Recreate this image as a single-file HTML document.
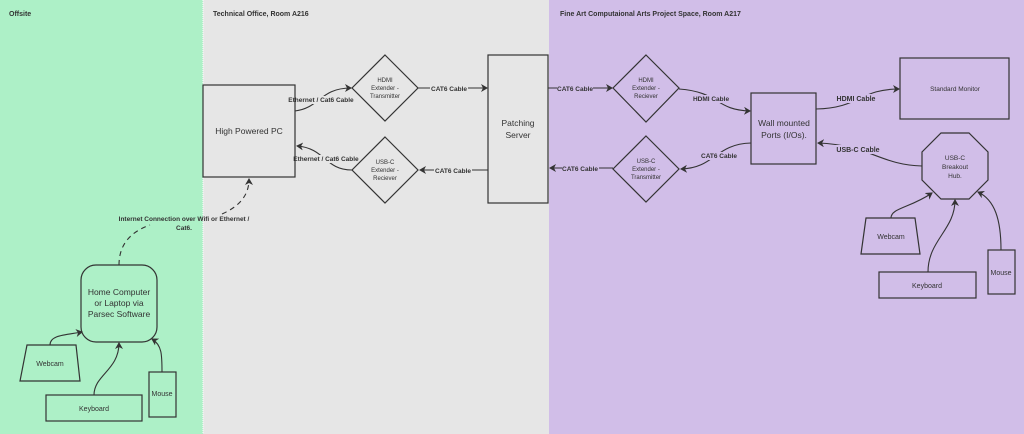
<!DOCTYPE html>
<html><head><meta charset="utf-8"><style>
html,body{margin:0;padding:0;width:1024px;height:434px;overflow:hidden}
svg{display:block}
text{font-family:"Liberation Sans",sans-serif;fill:#333}
.t{font-size:7px;font-weight:bold}
.l{font-size:6.5px;font-weight:bold}
.n{font-size:8.5px}
.s{font-size:6px}
.sh{fill:none;stroke:#333;stroke-width:1.2}
.c{fill:none;stroke:#333;stroke-width:1.1}
.g{fill:#e6e6e6}.p{fill:#d1bee8}.gr{fill:#adf0c7}
</style></head><body>
<svg width="1024" height="434" viewBox="0 0 1024 434">
<defs><marker id="a" markerWidth="8" markerHeight="8" refX="6" refY="4" orient="auto" markerUnits="userSpaceOnUse"><path d="M0,0 L7,4 L0,8 L2,4 Z" fill="#333"/></marker></defs>
<rect x="0" y="0" width="203" height="434" fill="#adf0c7"/>
<rect x="203" y="0" width="346" height="434" fill="#e6e6e6"/>
<rect x="549" y="0" width="475" height="434" fill="#d1bee8"/>
<line x1="203" y1="0" x2="203" y2="434" stroke="#fff" stroke-dasharray="1,1"/>
<text class="t" x="9" y="16">Offsite</text>
<text class="t" x="213" y="16">Technical Office, Room A216</text>
<text class="t" x="560" y="16">Fine Art Computaional Arts Project Space, Room A217</text>

<!-- Connectors -->
<path class="c" d="M295,111 C320,108 320,88 351,88" marker-end="url(#a)"/>
<rect class="g" x="289" y="96" width="64" height="8"/>
<text class="l" x="321" y="102" text-anchor="middle">Ethernet / Cat6 Cable</text>
<path class="c" d="M352,170 C325,170 325,148 297,146" marker-end="url(#a)"/>
<rect class="g" x="294" y="155" width="64" height="8"/>
<text class="l" x="326" y="161" text-anchor="middle">Ethernet / Cat6 Cable</text>
<path class="c" d="M418,88 L487,88" marker-end="url(#a)"/>
<rect x="430" y="84" width="38" height="8" fill="#e6e6e6"/>
<text class="l" x="449" y="91" text-anchor="middle">CAT6 Cable</text>
<path class="c" d="M488,170 L420,170" marker-end="url(#a)"/>
<rect x="434" y="166" width="38" height="8" fill="#e6e6e6"/>
<text class="l" x="453" y="173" text-anchor="middle">CAT6 Cable</text>
<path class="c" d="M548,88 L612,88" marker-end="url(#a)"/>
<rect x="557" y="84" width="36" height="8" fill="#d1bee8"/>
<text class="l" x="575" y="91" text-anchor="middle">CAT6 Cable</text>
<path class="c" d="M613,168 L550,168" marker-end="url(#a)"/>
<rect x="562" y="164" width="37" height="8" fill="#d1bee8"/>
<text class="l" x="580" y="171" text-anchor="middle">CAT6 Cable</text>
<path class="c" d="M679,89 C720,92 715,110 750,111" marker-end="url(#a)"/>
<rect class="p" x="692" y="95" width="38" height="8"/>
<text class="l" x="711" y="101" text-anchor="middle">HDMI Cable</text>
<path class="c" d="M751,143 C715,144 715,168 681,169" marker-end="url(#a)"/>
<rect class="p" x="700" y="152" width="38" height="8"/>
<text class="l" x="719" y="158" text-anchor="middle">CAT6 Cable</text>
<path class="c" d="M816,109 C860,108 860,89 899,89" marker-end="url(#a)"/>
<rect class="p" x="835" y="94" width="42" height="9"/>
<text class="l" x="856" y="101" style="font-size:7px" text-anchor="middle">HDMI Cable</text>
<path class="c" d="M922,166 C880,165 870,145 818,143" marker-end="url(#a)"/>
<rect class="p" x="835" y="145" width="46" height="9"/>
<text class="l" x="858" y="152" style="font-size:7px" text-anchor="middle">USB-C Cable</text>
<path class="c" d="M891,218 C891,208 910,208 932,193" marker-end="url(#a)"/>
<path class="c" d="M928,272 C928,240 955,230 955,200" marker-end="url(#a)"/>
<path class="c" d="M1001,250 C1001,220 995,200 978,192" marker-end="url(#a)"/>
<path class="c" d="M50,345 C50,335 65,335 82,332" marker-end="url(#a)"/>
<path class="c" d="M94,395 C94,375 119,370 119,343" marker-end="url(#a)"/>
<path class="c" d="M162,372 C162,355 162,345 152,339" marker-end="url(#a)"/>
<path class="c" d="M119,265 C119,245 130,232 150,225" stroke-dasharray="5,4"/>
<path class="c" d="M222,214 C240,206 249,195 249,179" stroke-dasharray="5,4" marker-end="url(#a)"/>
<text class="l" x="184" y="221" text-anchor="middle">Internet Connection over Wifi or Ethernet /</text>
<text class="l" x="184" y="230" text-anchor="middle">Cat6.</text>

<!-- Shapes -->
<rect class="sh" x="203" y="85" width="92" height="92"/>
<text class="n" x="249" y="134" text-anchor="middle">High Powered PC</text>
<path class="sh" d="M385,55 L418,88 L385,121 L352,88 Z"/>
<text class="s" x="385" y="82" text-anchor="middle">HDMI</text><text class="s" x="385" y="90" text-anchor="middle">Extender -</text><text class="s" x="385" y="98" text-anchor="middle">Transmitter</text>
<path class="sh" d="M385,137 L418,170 L385,203 L352,170 Z"/>
<text class="s" x="385" y="164" text-anchor="middle">USB-C</text><text class="s" x="385" y="172" text-anchor="middle">Extender -</text><text class="s" x="385" y="180" text-anchor="middle">Reciever</text>
<rect class="sh" x="488" y="55" width="60" height="148"/>
<text class="n" x="518" y="126" text-anchor="middle">Patching</text><text class="n" x="518" y="138" text-anchor="middle">Server</text>
<path class="sh" d="M646,55 L679,88 L646,122 L613,88 Z"/>
<text class="s" x="646" y="82" text-anchor="middle">HDMI</text><text class="s" x="646" y="90" text-anchor="middle">Extender -</text><text class="s" x="646" y="98" text-anchor="middle">Reciever</text>
<path class="sh" d="M646,136 L679,169 L646,202 L613,169 Z"/>
<text class="s" x="646" y="163" text-anchor="middle">USB-C</text><text class="s" x="646" y="171" text-anchor="middle">Extender -</text><text class="s" x="646" y="179" text-anchor="middle">Transmitter</text>
<rect class="sh" x="751" y="93" width="65" height="71"/>
<text class="n" x="784" y="126" text-anchor="middle">Wall mounted</text><text class="n" x="784" y="138" text-anchor="middle">Ports (I/Os).</text>
<rect class="sh" x="900" y="58" width="109" height="61"/>
<text class="s" x="955" y="91" text-anchor="middle" style="font-size:6.5px">Standard Monitor</text>
<path class="sh" d="M941,133 L969,133 L988,152 L988,180 L969,199 L941,199 L922,180 L922,152 Z"/>
<text class="s" x="955" y="160" text-anchor="middle" style="font-size:6.5px">USB-C</text><text class="s" x="955" y="169" text-anchor="middle" style="font-size:6.5px">Breakout</text><text class="s" x="955" y="178" text-anchor="middle" style="font-size:6.5px">Hub.</text>
<path class="sh" d="M866,218 L915,218 L920,254 L861,254 Z"/>
<text class="s" x="891" y="239" text-anchor="middle" style="font-size:7px">Webcam</text>
<rect class="sh" x="879" y="272" width="97" height="26"/>
<text class="s" x="927" y="288" text-anchor="middle" style="font-size:7px">Keyboard</text>
<rect class="sh" x="988" y="250" width="27" height="44"/>
<text class="s" x="1001" y="275" text-anchor="middle" style="font-size:7px">Mouse</text>

<rect class="sh" x="81" y="265" width="76" height="77" rx="15"/>
<text class="n" x="119" y="295" text-anchor="middle">Home Computer</text><text class="n" x="119" y="306" text-anchor="middle">or Laptop via</text><text class="n" x="119" y="317" text-anchor="middle">Parsec Software</text>
<path class="sh" d="M27,345 L76,345 L80,381 L20,381 Z"/>
<text class="s" x="50" y="366" text-anchor="middle" style="font-size:7px">Webcam</text>
<rect class="sh" x="46" y="395" width="96" height="26"/>
<text class="s" x="94" y="411" text-anchor="middle" style="font-size:7px">Keyboard</text>
<rect class="sh" x="149" y="372" width="27" height="45"/>
<text class="s" x="162" y="396" text-anchor="middle" style="font-size:7px">Mouse</text>
</svg>
</body></html>
